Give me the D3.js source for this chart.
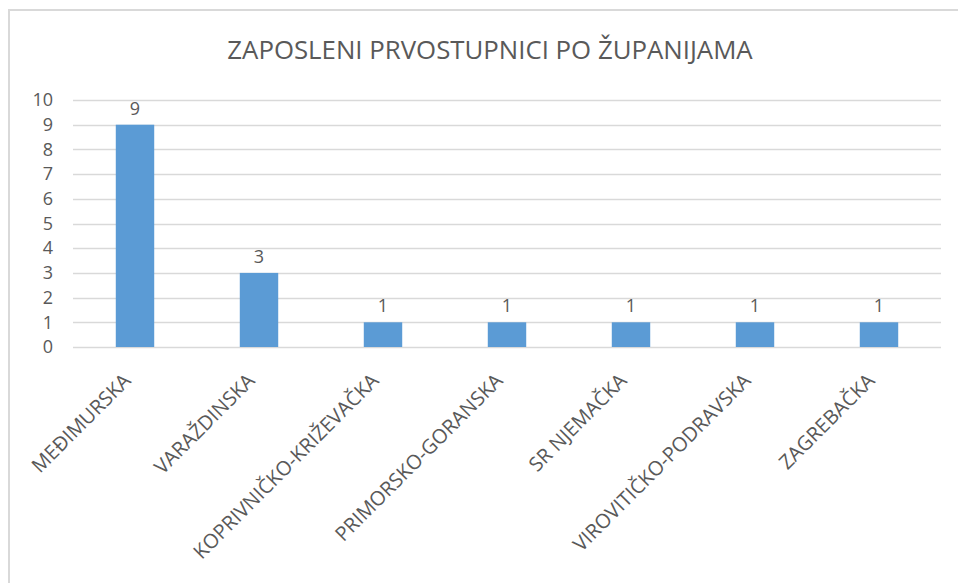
<!DOCTYPE html>
<html>
<head>
<meta charset="utf-8">
<script src="https://cdn.jsdelivr.net/npm/d3@7"></script>
<style>
  body { margin: 0; background: #fff; }
  text { font-family: "Open Sans", "Liberation Sans", sans-serif; fill: #595959; }
</style>
</head>
<body>
<svg class="chart"></svg>
<script>
(function () {
    'use strict';

    var title = "ZAPOSLENI PRVOSTUPNICI PO ŽUPANIJAMA";
    var categories = ["MEĐIMURSKA", "VARAŽDINSKA", "KOPRIVNIČKO-KRIŽEVAČKA", "PRIMORSKO-GORANSKA",
        "SR NJEMAČKA", "VIROVITIČKO-PODRAVSKA", "ZAGREBAČKA"];
    var values = [9, 3, 1, 1, 1, 1, 1];
    var yTicks = [0, 1, 2, 3, 4, 5, 6, 7, 8, 9, 10];

    var W = 958, H = 583;
    var margin = {top: 100, left: 73, right: 17, bottom: 236};
    var width = W - margin.left - margin.right,
        height = H - margin.top - margin.bottom;

    var root = d3.select(".chart").attr("width", W).attr("height", H);

    // chart frame
    root.append("rect")
        .attr("x", 9).attr("y", 10)
        .attr("width", W + 10).attr("height", H + 10)
        .attr("fill", "none").attr("stroke", "#d9d9d9").attr("stroke-width", 2);

    root.append("text")
        .attr("x", 490).attr("y", 59)
        .attr("text-anchor", "middle")
        .style("font-size", "25.8px")
        .text(title);

    var svg = root.append("g")
        .attr("transform", "translate(" + margin.left + "," + margin.top + ")");

    var x = d3.scaleBand().domain(categories).range([0, width]).paddingInner(0.69).paddingOuter(0.345);
    var y = d3.scaleLinear().domain([0, 10]).range([height, 0]);

    // grid lines
    svg.append("g")
        .selectAll("line")
        .data(yTicks)
        .enter().append("line")
        .attr("x1", 0).attr("x2", width)
        .attr("y1", function (d) { return Math.round(y(d)) + 0.5; })
        .attr("y2", function (d) { return Math.round(y(d)) + 0.5; })
        .attr("stroke", "#d9d9d9").attr("stroke-width", 1.5);

    // y axis labels
    var yAxis = svg.append("g")
        .call(d3.axisLeft(y).tickValues(yTicks).tickSize(0).tickPadding(20));
    yAxis.select(".domain").remove();
    yAxis.selectAll("text")
        .attr("fill", "#595959")
        .style("font-size", "18px")
        .style("font-family", "\"Open Sans\", sans-serif");

    // bars
    svg.append("g")
        .selectAll("rect")
        .data(values)
        .enter().append("rect")
        .attr("x", function (d, i) { return x(categories[i]); })
        .attr("y", function (d) { return y(d); })
        .attr("width", x.bandwidth())
        .attr("height", function (d) { return height - y(d); })
        .attr("fill", "#5b9bd5");

    // value labels
    svg.append("g")
        .selectAll("text")
        .data(values)
        .enter().append("text")
        .attr("x", function (d, i) { return x(categories[i]) + x.bandwidth() / 2; })
        .attr("y", function (d) { return y(d) - 10; })
        .attr("text-anchor", "middle")
        .style("font-size", "18px")
        .text(function (d) { return d; });

    // x axis labels
    var xAxis = svg.append("g")
        .attr("transform", "translate(0," + height + ")")
        .call(d3.axisBottom(x).tickSize(0).tickPadding(0));
    xAxis.select(".domain").remove();
    xAxis.selectAll("text")
        .attr("fill", "#595959")
        .style("font-size", "20px")
        .style("font-family", "\"Open Sans\", sans-serif")
        .attr("text-anchor", "end")
        .attr("dy", 0)
        .attr("transform", "translate(-3,35) rotate(-45)");
})();
</script>
</body>
</html>
